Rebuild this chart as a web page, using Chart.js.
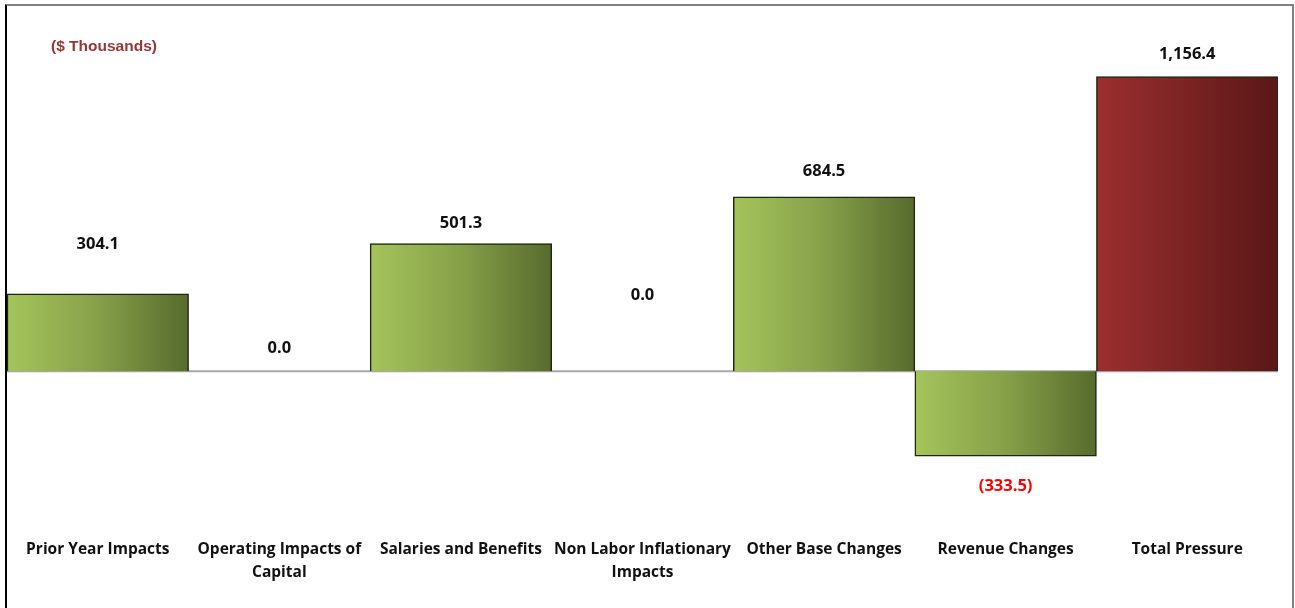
<!DOCTYPE html>
<html>
<head>
<meta charset="utf-8">
<script src="https://cdn.jsdelivr.net/npm/chart.js@4.4.1/dist/chart.umd.min.js"></script>
<style>
  html, body { margin: 0; padding: 0; background: #fff; }
  #wrap { position: relative; width: 1295px; height: 608px; }
  #frame {
    position: absolute; left: 5px; top: 4px; width: 1285px; height: 610px;
    border-top: 2px solid #808080; border-left: 2px solid #000; border-right: 2px solid #808080;
    pointer-events: none;
  }
</style>
</head>
<body>
<div id="wrap">
  <canvas id="myChart" width="1295" height="608"></canvas>
  <div id="frame"></div>
</div>
<script>
const categories = [
    ['Prior Year Impacts'],
    ['Operating Impacts of', 'Capital'],
    ['Salaries and Benefits'],
    ['Non Labor Inflationary', 'Impacts'],
    ['Other Base Changes'],
    ['Revenue Changes'],
    ['Total Pressure']
];
const values = [304.1, 0.0, 501.3, 0.0, 684.5, -333.5, 1156.4];
const valueLabels = ['304.1', '0.0', '501.3', '0.0', '684.5', '(333.5)', '1,156.4'];

// how far each value label sits from the bar end (px), as in the picture
const labelLift = [49, 23, 20, 76, 26, 30, 22];

const labelFont = 'bold 16.5px "Open Sans", Lato, sans-serif';

function barGradient(ctx) {
    const chart = ctx.chart;
    const x = chart.scales.x;
    if (!chart.chartArea || !x) return '#8aa64a';
    const i = ctx.dataIndex;
    const half = (x.getPixelForValue(1) - x.getPixelForValue(0)) / 2;
    const c = x.getPixelForValue(i);
    const g = chart.ctx.createLinearGradient(c - half, 0, c + half, 0);
    if (i === values.length - 1) {
        g.addColorStop(0, '#9c2f2f');
        g.addColorStop(1, '#5a1717');
    } else {
        g.addColorStop(0, '#a5c45b');
        g.addColorStop(0.5, '#86a049');
        g.addColorStop(1, '#576b2d');
    }
    return g;
}

const extras = {
    id: 'extras',
    beforeDatasetsDraw(chart) {
        const ctx = chart.ctx;
        const y0 = chart.scales.y.getPixelForValue(0);
        ctx.save();
        ctx.strokeStyle = '#a6a6a6';
        ctx.lineWidth = 2;
        ctx.beginPath();
        ctx.moveTo(chart.chartArea.left, y0);
        ctx.lineTo(chart.chartArea.right, y0);
        ctx.stroke();
        ctx.restore();
    },
    afterDatasetsDraw(chart) {
        const ctx = chart.ctx;
        const meta = chart.getDatasetMeta(0);
        ctx.save();
        ctx.font = labelFont;
        ctx.textAlign = 'center';
        ctx.textBaseline = 'middle';
        meta.data.forEach((bar, i) => {
            const v = values[i];
            if (v < 0) {
                ctx.fillStyle = '#ff0000';
                ctx.fillText(valueLabels[i], bar.x, bar.y + labelLift[i]);
            } else {
                ctx.fillStyle = '#111111';
                ctx.fillText(valueLabels[i], bar.x, bar.y - labelLift[i]);
            }
        });
        ctx.font = 'bold 15.5px "Liberation Sans", Arial, sans-serif';
        ctx.fillStyle = '#953735';
        ctx.textAlign = 'left';
        ctx.fillText('($ Thousands)', 51, 47);
        ctx.restore();
    }
};

new Chart('myChart', {
    type: 'bar',
    data: {
        labels: categories,
        datasets: [{
            data: values,
            backgroundColor: barGradient,
            borderColor: '#1f2414',
            borderWidth: 1.5,
            barPercentage: 1,
            categoryPercentage: 1
        }]
    },
    options: {
        responsive: false,
        animation: false,
        layout: { padding: { left: 7, right: 17, top: 40, bottom: 10 } },
        plugins: {
            legend: { display: false },
            tooltip: { enabled: false }
        },
        scales: {
            x: {
                grid: { display: false, drawTicks: false },
                border: { display: false },
                ticks: {
                    padding: 14,
                    color: '#111111',
                    maxRotation: 0,
                    autoSkip: false,
                    font: { family: '"Open Sans", Lato, sans-serif', size: 15.5, weight: 'bold', lineHeight: 1.48 }
                }
            },
            y: {
                display: false,
                min: -600,
                max: 1300
            }
        }
    },
    plugins: [extras]
});
</script>
</body>
</html>
